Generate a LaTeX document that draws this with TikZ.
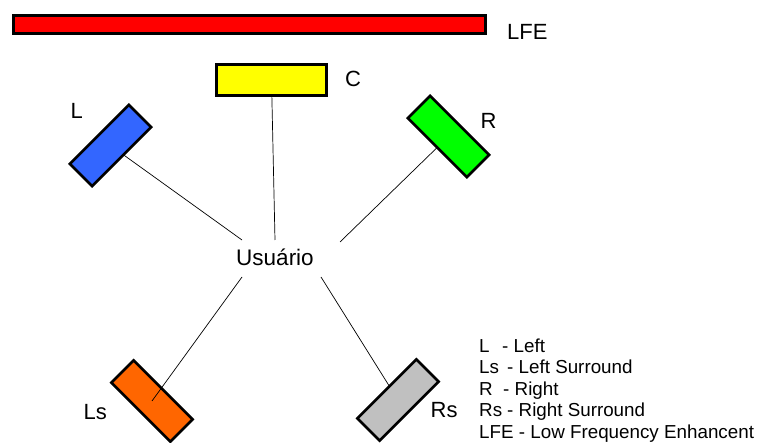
\documentclass[tikz,border=0pt]{standalone}
\usepackage{fontspec}
\setmainfont{Liberation Sans}
\usetikzlibrary{backgrounds}
\definecolor{spkred}{HTML}{FF0000}
\definecolor{spkyellow}{HTML}{FFFF00}
\definecolor{spkblue}{HTML}{3366FF}
\definecolor{spkgreen}{HTML}{00FF00}
\definecolor{spkorange}{HTML}{FF6600}
\definecolor{spkgray}{HTML}{C0C0C0}
\begin{document}
\begin{tikzpicture}[x=1pt,y=-1pt,
  spk/.style={draw=black, line width=2.6pt, minimum width=83.4pt, minimum height=31.4pt, inner sep=0pt, rotate=#1},
  wire/.style={draw=black, line width=0.7pt},
  lbl/.style={font=\fontsize{22}{26}\selectfont, anchor=base west, inner sep=0pt},
  legend/.style={font=\fontsize{18.8}{22}\selectfont, anchor=base west, inner sep=0pt}]
\useasboundingbox (0,0) rectangle (758,443);

% speakers
\node[draw=black, line width=2.6pt, fill=spkred, minimum width=472pt, minimum height=18.4pt, inner sep=0pt] (lfe) at (249.5,24.5) {};
\node[draw=black, line width=2.6pt, fill=spkyellow, minimum width=110.4pt, minimum height=31.4pt, inner sep=0pt] (c) at (271.5,80) {};
\node[spk=45, fill=spkblue] (l) at (110.5,145.5) {};
\node[spk=-45, fill=spkgreen] (r) at (448.5,136.5) {};
\node[spk=-45, fill=spkorange] (ls) at (152,401) {};
\node[spk=45, fill=spkgray] (rs) at (398,400) {};

% listener
\node[font=\fontsize{22.5}{27}\selectfont, anchor=base, inner sep=0pt] (user) at (275,266) {Usuário};
\coordinate (uL) at (242,240);
\coordinate (uC) at (275,240);
\coordinate (uR) at (340,242);
\coordinate (uLs) at (242,277);
\coordinate (uRs) at (321,277);

\begin{pgfonlayer}{background}
\draw[wire] (l.center) -- (uL);
\draw[wire] (c.center) -- (uC);
\draw[wire] (r.center) -- (uR);
\draw[wire] (rs.center) -- (uRs);
\end{pgfonlayer}
\draw[wire] (ls.center) -- (uLs);

% speaker labels
\node[lbl] (tlfe) at (507,40) {LFE};
\node[lbl] (tc) at (345,87) {C};
\node[lbl] (tl) at (70.5,119) {L};
\node[lbl] (tr) at (480.5,129) {R};
\node[lbl] (tls) at (83.5,420) {Ls};
\node[lbl] (trs) at (430.5,418) {Rs};

% legend
\node[legend] (k1) at (479,352.5) {\makebox[23pt][l]{L}- Left};
\node[legend] (k2) at (479,374) {\makebox[28pt][l]{Ls}- Left Surround};
\node[legend] (k3) at (479,395.5) {\makebox[24pt][l]{R}- Right};
\node[legend] (k4) at (479,417) {\makebox[28pt][l]{Rs}- Right Surround};
\node[legend] (k5) at (479,438.5) {LFE - Low Frequency Enhancent};
\end{tikzpicture}
\end{document}
